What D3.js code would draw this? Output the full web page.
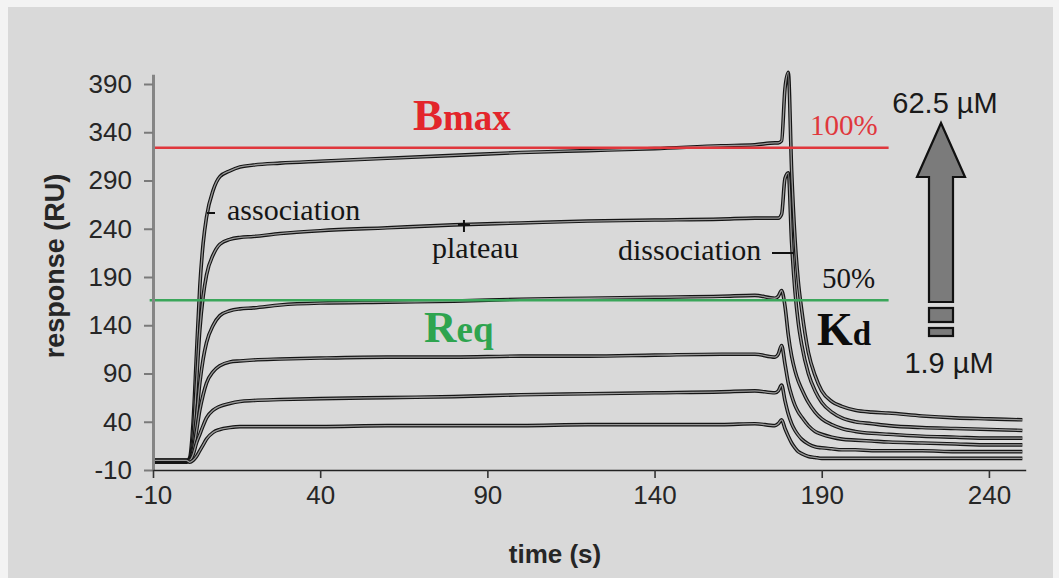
<!DOCTYPE html>
<html>
<head>
<meta charset="utf-8">
<script src="https://cdn.jsdelivr.net/npm/d3@7"></script>
<style>
  html, body { margin: 0; padding: 0; background: #f3f3f3; }
  svg { display: block; }
</style>
</head>
<body>
<svg id="chart" width="1059" height="578"></svg>
<script>
// Sensorgram: time (s) and response (RU), one array per concentration
const times = [-10, -5, 0, 1, 2, 3, 4, 5, 6, 8, 10, 13, 16, 20, 28, 40, 60, 80, 100, 120, 140, 160, 170, 176, 177,
  178, 179, 180, 181, 182, 183, 184, 186, 188, 190, 193, 196, 200, 205, 210, 220, 230, 240, 250];

const r625 = [-2, -2, -2, 3, 40, 110, 180, 225, 252, 280, 294, 300, 304, 306, 308, 310, 313, 316, 319, 321, 323, 326, 327, 329, 329,
  331, 385, 402, 300, 230, 185, 156, 112, 88, 72, 61, 56, 52, 50, 49, 46, 44, 43, 42];
const r313 = [-1, -1, -1, 1, 25, 80, 135, 170, 192, 213, 224, 229, 231, 232, 235, 238, 241, 244, 246, 248, 249, 250, 251, 251, 251,
  255, 292, 298, 225, 175, 142, 120, 90, 72, 60, 50, 44, 40, 38, 36, 34, 33, 32, 31];
const r156 = [-1, -1, -1, 0, 15, 45, 80, 105, 122, 140, 150, 155, 157, 158, 161, 163, 164, 165, 167, 168, 169, 170, 171, 168, 170,
  176, 160, 130, 108, 93, 82, 74, 60, 50, 43, 37, 33, 30, 28, 27, 25, 24, 23, 23];
const r78 = [0, 0, 0, 0, 10, 30, 52, 68, 80, 92, 98, 102, 103, 104, 105, 106, 107, 107, 108, 108, 109, 110, 110, 107, 110,
  119, 100, 80, 67, 57, 50, 45, 36, 30, 27, 24, 22, 21, 20, 19, 18, 17, 16, 16];
const r39 = [0, 0, 0, 0, 6, 18, 27, 36, 44, 52, 56, 59, 61, 62, 63, 64, 65, 66, 68, 69, 70, 71, 72, 70, 72,
  78, 62, 48, 38, 31, 26, 22, 17, 14, 13, 12, 11, 11, 10, 10, 10, 9, 9, 9];
const r19 = [0, 0, 0, -2, 0, 4, 10, 16, 22, 29, 32, 34, 35, 35, 35, 35, 36, 36, 36, 37, 37, 37, 38, 36, 38,
  42, 33, 25, 18, 13, 9, 7, 4, 3, 2, 2, 2, 2, 2, 2, 2, 2, 2, 2];

const series = [r625, r313, r156, r78, r39, r19];

const xTicks = [-10, 40, 90, 140, 190, 240];
const yTicks = [-10, 40, 90, 140, 190, 240, 290, 340, 390];

const bmax = 324;   // 100% line
const reqHalf = 166; // 50% line
const refEnd = 210;

const svg = d3.select("#chart");

// panel
svg.append("rect").attr("x", 8).attr("y", 7).attr("width", 1045).attr("height", 571).attr("fill", "#d9d9d9");

const x = d3.scaleLinear().domain([-10, 251]).range([153, 1025.7]);
const y = d3.scaleLinear().domain([-10, 400]).range([470, 74.35]);

// curves: black outline with a gray core, like the overlaid fit/data traces
const line = d3.line()
  .x((d, i) => x(times[i]))
  .y(d => y(d))
  .curve(d3.curveMonotoneX);

const curves = svg.append("g");
series.forEach(s => {
  curves.append("path").attr("d", line(s)).attr("fill", "none")
    .attr("stroke", "#151515").attr("stroke-width", 3.6).attr("stroke-linejoin", "round");
  curves.append("path").attr("d", line(s)).attr("fill", "none")
    .attr("stroke", "#999").attr("stroke-width", 1.3).attr("stroke-linejoin", "round");
});

// reference lines
svg.append("line").attr("x1", x(-10)).attr("x2", x(refEnd)).attr("y1", y(bmax)).attr("y2", y(bmax))
  .attr("stroke", "#e0373c").attr("stroke-width", 2.5);
svg.append("line").attr("x1", x(-11)).attr("x2", x(refEnd)).attr("y1", y(reqHalf)).attr("y2", y(reqHalf))
  .attr("stroke", "#3aa65a").attr("stroke-width", 2.5);

// axes
const plain = d => String(d);
const yAxis = svg.append("g").attr("transform", "translate(" + x(-10) + ",0)")
  .call(d3.axisLeft(y).tickValues(yTicks).tickFormat(plain).tickSize(9).tickSizeOuter(0).tickPadding(12));
yAxis.select(".domain").attr("stroke", "#858585").attr("stroke-width", 3);
yAxis.selectAll(".tick line").attr("stroke", "#7a7a7a").attr("stroke-width", 2);
yAxis.selectAll(".tick text").attr("font-family", "Liberation Sans, Arial, sans-serif")
  .attr("font-size", 26).attr("fill", "#262626");

const xAxis = svg.append("g").attr("transform", "translate(0," + y(-10) + ")")
  .call(d3.axisBottom(x).tickValues(xTicks).tickFormat(plain).tickSize(8).tickSizeOuter(0).tickPadding(8));
xAxis.select(".domain").attr("stroke", "#222").attr("stroke-width", 1.6);
xAxis.selectAll(".tick line").attr("stroke", "#333").attr("stroke-width", 1.6);
xAxis.selectAll(".tick text").attr("font-family", "Liberation Sans, Arial, sans-serif")
  .attr("font-size", 26).attr("fill", "#262626");

// axis titles
svg.append("text").attr("x", 555).attr("y", 563).attr("text-anchor", "middle")
  .attr("font-family", "Liberation Sans, Arial, sans-serif").attr("font-weight", "bold")
  .attr("font-size", 26).attr("fill", "#262626").text("time (s)");
svg.append("text").attr("transform", "translate(64,266) rotate(-90)").attr("text-anchor", "middle")
  .attr("font-family", "Liberation Sans, Arial, sans-serif").attr("font-weight", "bold")
  .attr("font-size", 27).attr("fill", "#262626").text("response (RU)");

// annotations
const serif = "Liberation Serif, Times New Roman, serif";
const sans = "Liberation Sans, Arial, sans-serif";

function label(px, py, txt, size, color, weight, family) {
  return svg.append("text").attr("x", px).attr("y", py).attr("font-family", family || serif)
    .attr("font-size", size).attr("fill", color || "#151515").attr("font-weight", weight || "normal").text(txt);
}

label(227, 220, "association", 30);
label(432, 258, "plateau", 30);
label(618, 260, "dissociation", 30);
label(810, 135, "100%", 29, "#e0373c");
label(822, 288, "50%", 29);

const bm = svg.append("text").attr("x", 413).attr("y", 130).attr("font-family", serif)
  .attr("font-weight", "bold").attr("fill", "#e3252b");
bm.append("tspan").attr("font-size", 45).text("B");
bm.append("tspan").attr("font-size", 37).text("max");

const rq = svg.append("text").attr("x", 424).attr("y", 342).attr("font-family", serif)
  .attr("font-weight", "bold").attr("fill", "#2ea44f");
rq.append("tspan").attr("font-size", 45).text("R");
rq.append("tspan").attr("font-size", 37).text("eq");

const kd = svg.append("text").attr("x", 817).attr("y", 345).attr("font-family", serif)
  .attr("font-weight", "bold").attr("fill", "#0c0c0c");
kd.append("tspan").attr("font-size", 46).text("K");
kd.append("tspan").attr("font-size", 33).text("d");

label(945, 113, "62.5 µM", 29, "#1a1a1a", "normal", sans).attr("text-anchor", "middle");
label(949, 373, "1.9 µM", 29, "#1a1a1a", "normal", sans).attr("text-anchor", "middle");

// pointer marks
const marks = svg.append("g").attr("stroke", "#111").attr("stroke-width", 2);
marks.append("line").attr("x1", 207).attr("x2", 215).attr("y1", 213).attr("y2", 213);
marks.append("line").attr("x1", 772).attr("x2", 793).attr("y1", 253).attr("y2", 253);
marks.append("line").attr("x1", x(83)).attr("x2", x(83)).attr("y1", 220).attr("y2", 232);
marks.append("line").attr("x1", x(83) - 6).attr("x2", x(83) + 6).attr("y1", y(244)).attr("y2", y(244));

// concentration arrow
const ax = 941;
const arrow = svg.append("g").attr("fill", "#7b7b7b").attr("stroke", "#111").attr("stroke-width", 2.2);
arrow.append("path").attr("stroke-linejoin", "miter").attr("d",
  "M" + ax + ",123 L" + (ax + 24) + ",177 L" + (ax + 12) + ",177 L" + (ax + 12) + ",302 L" + (ax - 12) + ",302 L" +
  (ax - 12) + ",177 L" + (ax - 24) + ",177 Z");
arrow.append("rect").attr("x", ax - 12).attr("y", 308).attr("width", 24).attr("height", 14);
arrow.append("rect").attr("x", ax - 12).attr("y", 328).attr("width", 24).attr("height", 8);
</script>
</body>
</html>
